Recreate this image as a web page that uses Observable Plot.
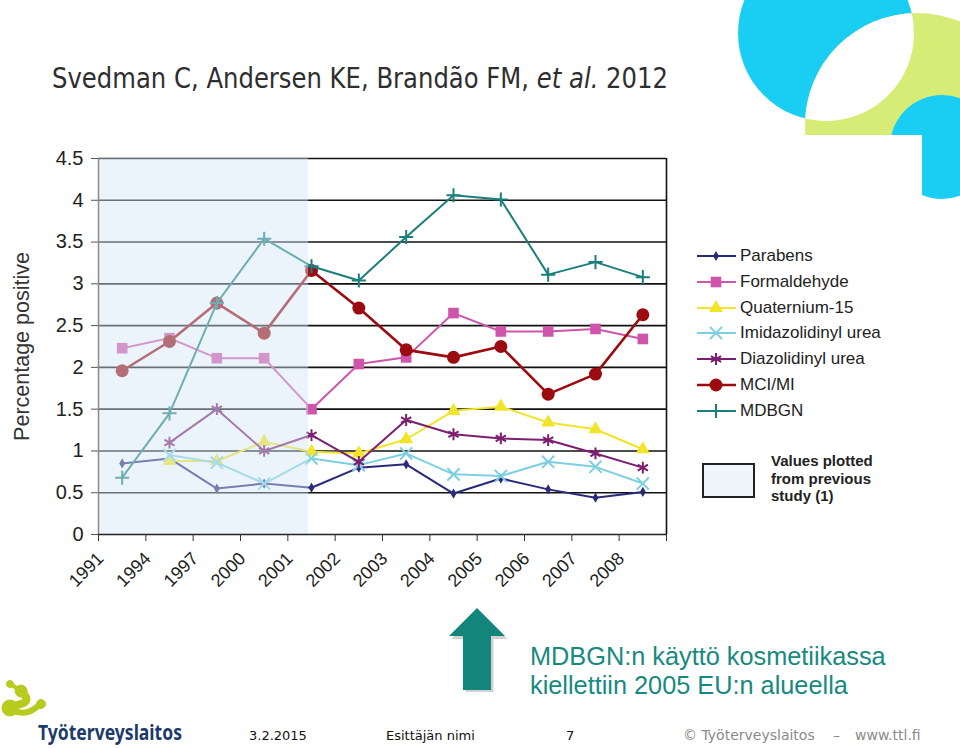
<!DOCTYPE html>
<html><head><meta charset="utf-8">
<script src="https://cdn.jsdelivr.net/npm/d3@7"></script>
<script src="https://cdn.jsdelivr.net/npm/@observablehq/plot@0.6"></script>
<style>
html,body{margin:0;padding:0;background:#fff;}
#slide{position:relative;width:960px;height:748px;overflow:hidden;font-family:"Liberation Sans",Arial,sans-serif;}
#decor{position:absolute;left:0;top:0;}
#chart{position:absolute;left:0;top:130px;}
#title{position:absolute;left:52px;top:62px;font-family:"DejaVu Sans",Verdana,sans-serif;font-size:28px;line-height:34px;color:#2e2e2e;white-space:nowrap;transform-origin:0 0;}
.leg{position:absolute;left:697px;height:20px;display:flex;align-items:center;font-size:17px;color:#222;white-space:nowrap;}
.leg svg{display:block;margin-right:3px;}
#notebox{position:absolute;left:702px;top:463px;width:53px;height:35px;box-sizing:border-box;border:2px solid #222;background:#eef5fb;}
#notetext{position:absolute;left:771px;top:452px;font-weight:bold;font-size:15px;line-height:17.6px;color:#222;}
.teal{position:absolute;left:530px;font-size:25.3px;color:#178a80;white-space:nowrap;line-height:30px;}
.foot{position:absolute;top:728px;font-family:"DejaVu Sans",Verdana,sans-serif;font-size:13px;line-height:16px;color:#111;white-space:pre;}
.foot2{position:absolute;top:727px;font-family:"DejaVu Sans",Verdana,sans-serif;font-size:14px;line-height:16px;color:#8a8a8a;white-space:pre;}
</style></head>
<body><div id="slide">
<svg id="decor" width="960" height="748">
  <defs>
    <clipPath id="limeClip"><rect x="0" y="0" width="960" height="135"/></clipPath>
    <clipPath id="blueBig"><circle cx="826" cy="33" r="88"/></clipPath>
    <clipPath id="smallClip"><path d="M0,0H960V748H922V135H0Z"/></clipPath>
  </defs>
  <circle cx="826" cy="33" r="88" fill="#19cdf3"/>
  <circle cx="917" cy="125" r="112" fill="#d7ec76" clip-path="url(#limeClip)"/>
  <g clip-path="url(#blueBig)"><circle cx="917" cy="125" r="112" fill="#fff"/></g>
  <circle cx="942" cy="147" r="52" fill="#19cdf3" clip-path="url(#smallClip)"/>
  <path d="M479.5,611 L507.5,639 L493.5,639 L493.5,692 L465.5,692 L465.5,639 L451.5,639 Z" fill="#000" opacity="0.18"/>
  <path d="M477,608 L505,636 L491,636 L491,690 L463,690 L463,636 L449,636 Z" fill="#13857a"/>
  <g fill="#b6cb1e" stroke="#b6cb1e" stroke-linecap="round" stroke-linejoin="round">
    <circle cx="10" cy="684" r="3.5"/>
    <path d="M10,684 L20,690" stroke-width="4" fill="none"/>
    <circle cx="21" cy="691" r="6"/>
    <path d="M21,691 Q30,699 24,703 Q14,706 10,707" stroke-width="8" fill="none"/>
    <circle cx="10" cy="708" r="8"/>
    <path d="M12,710 Q24,716 34,709 L41,704" stroke-width="6" fill="none"/>
    <circle cx="41" cy="704" r="4.5"/>
  </g>
  <text x="38" y="740" font-family="Noto Sans, DejaVu Sans, sans-serif" font-weight="bold" font-size="21" fill="#1c3b6b" textLength="144" lengthAdjust="spacingAndGlyphs">Työterveyslaitos</text>
</svg>
<div id="title">Svedman C, Andersen KE, Brandão FM, <i>et al.</i> 2012</div>
<div id="chart"></div>
<div id="legend"></div>
<div id="notebox"></div>
<div id="notetext">Values plotted<br>from previous<br>study (1)</div>
<div class="teal" style="top:641px">MDBGN:n käyttö kosmetiikassa</div>
<div class="teal" style="top:670px">kiellettiin 2005 EU:n alueella</div>
<div class="foot" style="left:249px">3.2.2015</div>
<div class="foot" style="left:386px">Esittäjän nimi</div>
<div class="foot" style="left:566px">7</div>
<div class="foot2" style="left:683px">© Työterveyslaitos</div>
<div class="foot2" style="left:833px">–</div>
<div class="foot2" style="left:855px">www.ttl.fi</div>
</div>
<script>
// ---- data ----
const years = ["1991","1994","1997","2000","2001","2002","2003","2004","2005","2006","2007","2008"];
const parabens       = [0.85,0.91,0.55,0.61,0.56,0.80,0.84,0.49,0.67,0.54,0.44,0.51];
const formaldehyde   = [2.23,2.35,2.11,2.11,1.50,2.04,2.12,2.65,2.43,2.43,2.46,2.34];
const quaternium15   = [null,0.88,0.88,1.11,0.99,0.97,1.14,1.48,1.53,1.34,1.26,1.02];
const imidazolidinyl = [null,0.95,0.86,0.61,0.91,0.83,0.97,0.72,0.70,0.87,0.81,0.61];
const diazolidinyl   = [null,1.10,1.50,1.00,1.19,0.87,1.37,1.20,1.15,1.13,0.97,0.80];
const mciMi          = [1.96,2.31,2.77,2.41,3.16,2.71,2.21,2.12,2.25,1.68,1.92,2.63];
const mdbgn          = [0.68,1.45,2.77,3.54,3.21,3.04,3.56,4.06,4.01,3.11,3.26,3.08];
const seriesNames = ["Parabens","Formaldehyde","Quaternium-15","Imidazolidinyl urea","Diazolidinyl urea","MCI/MI","MDBGN"];
const seriesValues = [parabens, formaldehyde, quaternium15, imidazolidinyl, diazolidinyl, mciMi, mdbgn];
const yTicks = [0,0.5,1,1.5,2,2.5,3,3.5,4,4.5];
const previousStudyEnd = 4.44; // shaded band: values from previous study (in year-slot units)

// ---- title width fit ----
const title = document.getElementById("title");
title.style.transform = `scaleX(${616 / title.getBoundingClientRect().width})`;

// ---- styles ----
const styles = {
  "Parabens":            {color:"#282a7a", symbol:"diamond",  r:3.1, filled:true,  w:2},
  "Formaldehyde":        {color:"#cf55aa", symbol:"square",   r:6.0, filled:true,  w:2},
  "Quaternium-15":       {color:"#f2e429", symbol:"triangle", r:5.2, filled:true,  w:2},
  "Imidazolidinyl urea": {color:"#7dcfe2", symbol:"times",    r:5.6, filled:false, w:2},
  "Diazolidinyl urea":   {color:"#7c1f70", symbol:"asterisk", r:5.6, filled:false, w:2},
  "MCI/MI":              {color:"#9b0b10", symbol:"circle",   r:6.5, filled:true,  w:2.6},
  "MDBGN":               {color:"#1a7f7c", symbol:"plus",     r:4.6, filled:false, w:2}
};

const rows = seriesNames.flatMap((name, k) =>
  seriesValues[k].map((v, i) => ({name, x: i + 0.5, y: v})).filter(d => d.y != null));

const seriesMarks = seriesNames.flatMap(name => {
  const st = styles[name];
  const data = rows.filter(d => d.name === name);
  return [
    Plot.line(data, {x:"x", y:"y", stroke: st.color, strokeWidth: st.w}),
    Plot.dot(data, {x:"x", y:"y", symbol: st.symbol, r: st.r,
      fill: st.filled ? st.color : "none",
      stroke: st.filled ? "none" : st.color,
      strokeWidth: st.filled ? 0 : 2})
  ];
});

const xTickPositions = d3.range(years.length + 1);

const chart = Plot.plot({
  width: 700, height: 470,
  marginLeft: 98, marginRight: 34, marginTop: 28, marginBottom: 66,
  style: {fontFamily: "Liberation Sans, Arial, sans-serif", fontSize: "17px", color: "#222", background: "transparent", overflow: "visible"},
  x: {type: "linear", domain: [0, years.length], axis: null},
  y: {domain: [0, 4.5], axis: null},
  marks: [
    Plot.ruleY(yTicks.filter(t => t > 0), {stroke: "#111", strokeWidth: 1.6}),
    Plot.ruleX([years.length], {y1: 0, y2: 4.5, stroke: "#111", strokeWidth: 1.6}),
    ...seriesMarks,
    Plot.rect([{x1: 0, x2: previousStudyEnd, y1: 0, y2: 4.5}], {x1:"x1", x2:"x2", y1:"y1", y2:"y2", fill:"#d4e7f6", fillOpacity: 0.45}),
    Plot.ruleX([0], {stroke: "#8a8a8a", strokeWidth: 1.5}),
    Plot.ruleY([0], {stroke: "#222", strokeWidth: 1.6}),
    Plot.axisY({ticks: yTicks, tickFormat: d => String(d), tickSize: 7, tickPadding: 8, fontSize: 20, stroke: "#555", fill: "#222", label: null}),
    // tick marks only
    Plot.axisX({ticks: xTickPositions, tickFormat: () => "", tickSize: 7, stroke: "#333", label: null}),
    // rotated year labels, nudged down as in the reference
    Plot.axisX({ticks: xTickPositions, tickFormat: i => years[i] ?? "", tickRotate: -45, tickSize: 0, tickPadding: 15, dx: 2, dy: 6, fontSize: 18, fill: "#222", label: null}),
    Plot.text(["Percentage positive"], {frameAnchor: "left", textAnchor: "middle", dx: -76, rotate: -90, fontSize: 21.5, fill: "#333"})
  ]
});
document.getElementById("chart").appendChild(chart);

// ---- legend ----
const legendCenters = [256, 282, 307.7, 333, 359, 385, 411];
const legend = document.getElementById("legend");
const symMap = {diamond: d3.symbolDiamond, square: d3.symbolSquare, triangle: d3.symbolTriangle,
  times: d3.symbolTimes, asterisk: d3.symbolAsterisk, circle: d3.symbolCircle, plus: d3.symbolPlus};
seriesNames.forEach((name, k) => {
  const st = styles[name];
  const row = document.createElement("div");
  row.className = "leg";
  row.style.top = (legendCenters[k] - 10) + "px";
  const svg = d3.create("svg").attr("width", 40).attr("height", 20);
  svg.append("line").attr("x1", 0).attr("x2", 39).attr("y1", 10).attr("y2", 10)
    .attr("stroke", st.color).attr("stroke-width", st.w);
  svg.append("path").attr("transform", "translate(19,10)")
    .attr("d", d3.symbol(symMap[st.symbol], Math.PI * st.r * st.r)())
    .attr("fill", st.filled ? st.color : "none")
    .attr("stroke", st.filled ? "none" : st.color).attr("stroke-width", 2);
  row.appendChild(svg.node());
  const t = document.createElement("span");
  t.textContent = name;
  row.appendChild(t);
  legend.appendChild(row);
});
</script>
</body></html>
